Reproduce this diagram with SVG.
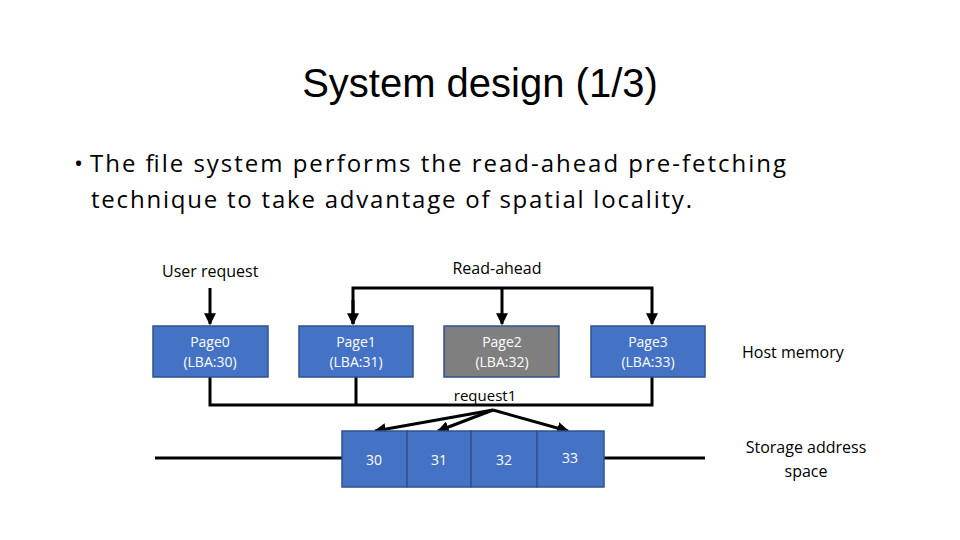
<svg xmlns="http://www.w3.org/2000/svg" width="960" height="540" viewBox="0 0 960 540">
<style>
.t{font-family:"Open Sans","Liberation Sans",sans-serif;fill:#000}
.b{fill:#4472C4;stroke:#2F528F;stroke-width:1.5}
.g{fill:#7F7F7F;stroke:#2F528F;stroke-width:1.5}
.w{font-family:"Open Sans","Liberation Sans",sans-serif;fill:#fff;font-size:14px;text-anchor:middle}
.l{stroke:#000;stroke-width:3;fill:none}
</style>
<defs><marker id="a" viewBox="0 0 10 10" refX="9" refY="5" markerWidth="4" markerHeight="4" orient="auto"><path d="M0,0L10,5L0,10z" fill="#000"/></marker></defs>
<rect width="960" height="540" fill="#fff"/>
<text x="480" y="97" font-family="Liberation Sans,sans-serif" font-size="40" text-anchor="middle">System design (1/3)</text>
<text class="t" x="74" y="172" font-size="24">•</text>
<text class="t" x="90" y="172" font-size="24" textLength="696">The file system performs the read-ahead pre-fetching</text>
<text class="t" x="91" y="208" font-size="24" textLength="601">technique to take advantage of spatial locality.</text>
<text class="t" x="162" y="277" font-size="16">User request</text>
<text class="t" x="497" y="274" font-size="16" text-anchor="middle">Read-ahead</text>
<text class="t" x="742" y="358" font-size="16">Host memory</text>
<text class="t" x="806" y="453" font-size="16" text-anchor="middle">Storage address</text>
<text class="t" x="806" y="477" font-size="16" text-anchor="middle">space</text>
<g id="connectors">
<path class="l" d="M210,288V324" marker-end="url(#a)"/>
<path class="l" d="M353,324V288H652V324" marker-end="url(#a)"/>
<path class="l" d="M353,300V324" marker-end="url(#a)"/>
<path class="l" d="M502,288V324" marker-end="url(#a)"/>
<path class="l" d="M210,377V405H652V377M356,377V405"/>
<path class="l" d="M155,458H342M604,458H705"/>
<path class="l" d="M493,410L375,431" marker-end="url(#a)"/>
<path class="l" d="M493,410L438,431" marker-end="url(#a)"/>
<path class="l" d="M493,410L568,431" marker-end="url(#a)"/>
</g>
<rect x="448" y="386" width="74" height="17" fill="#fff"/>
<text class="t" x="485" y="401" font-size="15" text-anchor="middle">request1</text>
<g id="page0"><rect class="b" x="153" y="326" width="115" height="51"/><text class="w" x="210" y="347">Page0</text><text class="w" x="210" y="367">(LBA:30)</text></g>
<g id="page1"><rect class="b" x="299" y="326" width="114" height="51"/><text class="w" x="356" y="347">Page1</text><text class="w" x="356" y="367">(LBA:31)</text></g>
<g id="page2"><rect class="g" x="444" y="326" width="115" height="51"/><text class="w" x="502" y="347">Page2</text><text class="w" x="502" y="367">(LBA:32)</text></g>
<g id="page3"><rect class="b" x="591" y="326" width="114" height="51"/><text class="w" x="648" y="347">Page3</text><text class="w" x="648" y="367">(LBA:33)</text></g>
<g id="b30"><rect class="b" x="342" y="431" width="65" height="56"/><text class="w" x="374" y="465" font-size="15">30</text></g>
<g id="b31"><rect class="b" x="407" y="431" width="64" height="56"/><text class="w" x="439" y="465" font-size="15">31</text></g>
<g id="b32"><rect class="b" x="471" y="431" width="66" height="56"/><text class="w" x="504" y="465" font-size="15">32</text></g>
<g id="b33"><rect class="b" x="537" y="431" width="67" height="56"/><text class="w" x="570" y="463" font-size="15">33</text></g>
</svg>
